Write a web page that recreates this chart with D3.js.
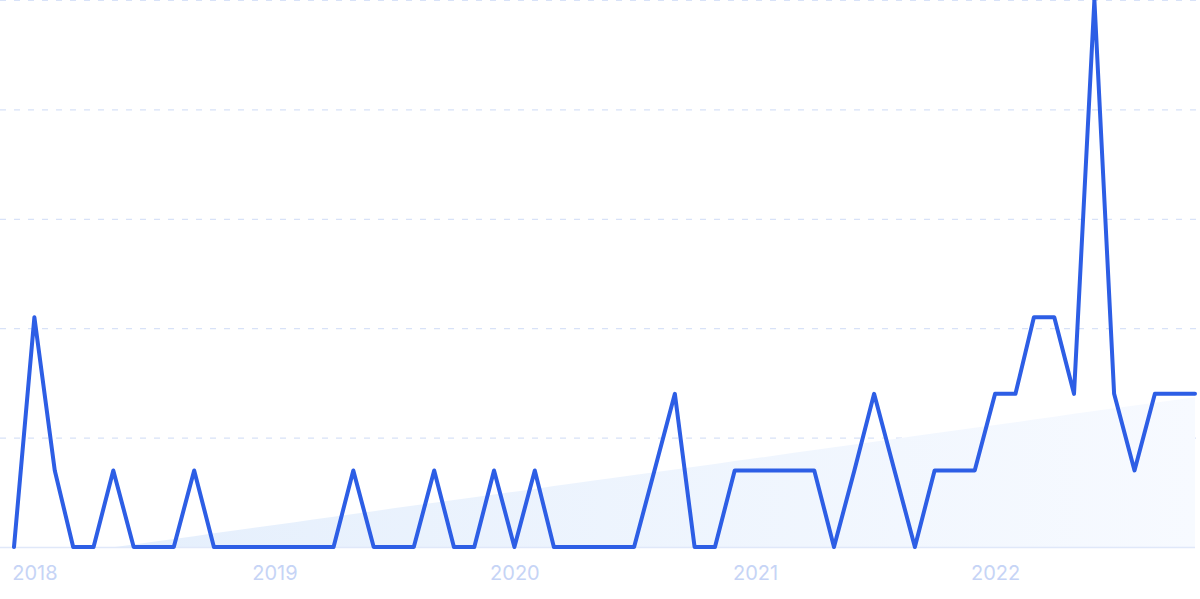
<!DOCTYPE html>
<html><head><meta charset="utf-8">
<script src="https://cdn.jsdelivr.net/npm/d3@7"></script>
<style>html,body{margin:0;padding:0;background:#fff;overflow:hidden}</style>
</head><body><svg id="c" width="1200" height="599"></svg>
<script>
const startMonth = "2017-12";
const values = [0,42,14,0,0,14,0,0,0,14,0,0,0,0,0,0,0,14,0,0,0,14,0,0,14,0,14,0,0,0,0,0,14,28,0,0,14,14,14,14,14,0,14,28,14,0,14,14,14,28,28,42,42,28,100,28,14,28,28,28];
const yearTicks = ["2018","2019","2020","2021","2022"];
const yTickValues = [0,20,40,60,80,100];

(function(){
const parse = d3.timeParse("%Y-%m");
const t0 = parse(startMonth);
const data = values.map((v,i)=>({date:d3.timeMonth.offset(t0,i), value:v, i}));

const svg = d3.select("#c");
const W=1200, H=599, mLeft=14, mRight=1195, mTop=0, mBottom=547;
const x = d3.scaleTime().domain(d3.extent(data,d=>d.date)).range([mLeft,mRight]);
const y = d3.scaleLinear().domain([0,100]).range([mBottom,mTop]);

// gridlines
svg.append("g").selectAll("line").data(yTickValues.filter(v=>v>0)).join("line")
  .attr("x1",0).attr("x2",W).attr("y1",d=>y(d)+0.5).attr("y2",d=>y(d)+0.5)
  .attr("stroke","#d8e2f8").attr("stroke-width",1.2).attr("stroke-dasharray","6,8");

// trend (linear regression)
const mi=d3.mean(data,d=>d.i), mv=d3.mean(data,d=>d.value);
const slope = d3.sum(data,d=>(d.i-mi)*(d.value-mv))/d3.sum(data,d=>(d.i-mi)**2);
const trend = data.map(d=>({date:d.date, value: mv+slope*(d.i-mi)}));

const defs = svg.append("defs");
const g = defs.append("linearGradient").attr("id","tg").attr("x1","0").attr("y1","0").attr("x2","1").attr("y2","0");
g.append("stop").attr("offset","0%").attr("stop-color","#e3eefc");
g.append("stop").attr("offset","100%").attr("stop-color","#f7faff");
defs.append("clipPath").attr("id","clip").append("rect").attr("x",0).attr("y",0).attr("width",W).attr("height",mBottom);

svg.append("path").datum(trend).attr("clip-path","url(#clip)")
  .attr("fill","url(#tg)")
  .attr("d", d3.area().x(d=>x(d.date)).y0(mBottom).y1(d=>y(d.value)));

// baseline
svg.append("line").attr("x1",0).attr("x2",mRight).attr("y1",mBottom+0.5).attr("y2",mBottom+0.5)
  .attr("stroke","#e0e8f9").attr("stroke-width",1.5);

// x axis labels
const axis = d3.axisBottom(x).tickValues(yearTicks.map(s=>d3.timeParse("%Y")(s))).tickFormat(d3.timeFormat("%Y")).tickSize(0).tickPadding(0);
const ax = svg.append("g").attr("transform",`translate(0,${mBottom})`).call(axis);
ax.select(".domain").remove();
ax.selectAll("text").attr("fill","#c6d4f6").attr("font-family","Inter, 'Noto Sans', sans-serif").attr("font-size",20).attr("dy",null).attr("y",33);

// line
svg.append("path").datum(data).attr("fill","none").attr("stroke","#2d5ee5").attr("stroke-width",4)
  .attr("stroke-linejoin","round").attr("stroke-linecap","round")
  .attr("d", d3.line().x(d=>x(d.date)).y(d=>y(d.value)));
})();
</script></body></html>
